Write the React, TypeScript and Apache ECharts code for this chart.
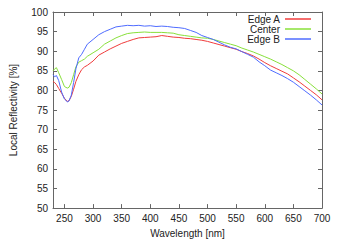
import React, { useEffect, useRef } from "react";
import * as echarts from "echarts";

const wavelengths = [
  230, 233, 236, 240, 245, 250, 255, 258, 262, 266, 270, 275, 280, 285, 290,
  300, 310, 320, 330, 340, 350, 360, 370, 380, 390, 400, 410, 420, 430, 440,
  450, 460, 470, 480, 490, 500, 510, 520, 530, 540, 550, 560, 570, 580, 590,
  600, 610, 620, 630, 640, 650, 660, 670, 680, 690, 700,
];

const edgeA = [
  82.3, 82.0, 81.5, 80.5, 79.3, 78.0, 77.2, 77.4, 78.5, 80.3, 82.3, 84.0, 85.3, 86.0, 86.4,
  87.5, 89.0, 89.8, 90.6, 91.3, 92.0, 92.5, 93.0, 93.4, 93.5, 93.6, 93.7, 94.0, 93.8, 93.6,
  93.5, 93.3, 93.2, 93.0, 92.8, 92.5, 92.1, 91.7, 91.3, 90.9, 90.5, 89.9, 89.4, 88.8, 88.0,
  87.1, 86.3, 85.6, 84.9, 84.2, 83.2, 82.2, 81.1, 80.0, 78.9, 77.6,
];

const center = [
  85.0, 85.5, 85.8, 84.5, 82.8, 81.0, 80.6, 80.8, 82.0, 84.0, 86.0, 87.2, 87.6, 88.0, 88.7,
  89.6, 90.5, 91.8, 92.6, 93.4, 94.0, 94.5, 94.7, 94.8, 94.9, 94.8, 94.8, 94.8, 94.7, 94.6,
  94.2, 94.0, 93.8, 93.6, 93.4, 93.3, 93.0, 92.6, 92.2, 91.8, 91.4, 90.8, 90.3, 89.8, 89.2,
  88.6, 88.0, 87.3, 86.6, 85.8, 85.0, 84.0, 82.8, 81.6, 80.4, 79.1,
];

const edgeB = [
  84.0, 83.5, 83.8, 82.5, 79.6, 77.8, 77.1, 77.3, 78.8, 82.0, 85.5, 88.3, 89.2, 90.5, 91.8,
  93.0, 94.2, 95.0, 95.6, 96.2, 96.4, 96.6, 96.5, 96.6, 96.4, 96.5, 96.3, 96.4, 96.3, 96.1,
  96.0, 95.8, 95.3, 94.8, 94.0, 93.5, 93.0, 92.3, 91.6, 91.0, 90.6, 89.9, 89.2, 88.5, 87.3,
  86.3, 85.2, 84.5, 83.8, 83.0, 82.1, 81.0, 79.9, 78.8, 77.6, 76.3,
];

const xTicks = [250, 300, 350, 400, 450, 500, 550, 600, 650, 700];

const seriesNames = ["Edge A", "Center", "Edge B"];
const seriesColors = ["#f03c3c", "#88e03a", "#4f6cff"];
const seriesValues = [edgeA, center, edgeB];

const FONT = "'Liberation Sans', Arial, Helvetica, sans-serif";

export default function App() {
  const ref = useRef<HTMLDivElement>(null);

  useEffect(() => {
    if (!ref.current) return;
    const chart = echarts.init(ref.current, null, { renderer: "svg" });
    const axisLine = { show: true, lineStyle: { color: "#666", width: 1 } };
    const tickStyle = { color: "#666", width: 1 };
    const xCommon = {
      type: "value" as const,
      min: 230,
      max: 700,
      axisLine,
      axisTick: { show: true, inside: true, length: 4, lineStyle: tickStyle, customValues: xTicks },
      splitLine: { show: false },
    };
    const yCommon = {
      type: "value" as const,
      min: 50,
      max: 100,
      interval: 5,
      axisLine,
      axisTick: { show: true, inside: true, length: 4, lineStyle: tickStyle },
      splitLine: { show: false },
    };
    chart.setOption({
      animation: false,
      textStyle: { fontFamily: FONT },
      grid: { left: 49, right: 15, top: 12, bottom: 31 },
      legend: {
        orient: "vertical",
        right: 26,
        top: 14,
        padding: 0,
        align: "right",
        itemWidth: 26,
        itemHeight: 1.5,
        itemGap: 0,
        icon: "rect",
        textStyle: { fontFamily: FONT, fontSize: 10, color: "#222", lineHeight: 10 },
        data: seriesNames,
      },
      xAxis: [
        {
          ...xCommon,
          position: "bottom",
          name: "Wavelength [nm]",
          nameLocation: "middle",
          nameGap: 19,
          nameTextStyle: { fontFamily: FONT, fontSize: 10, color: "#222" },
          axisLabel: {
            fontFamily: FONT,
            fontSize: 10,
            color: "#222",
            margin: 5,
            customValues: xTicks,
          },
        },
        {
          ...xCommon,
          position: "top",
          axisLabel: { show: false },
        },
      ],
      yAxis: [
        {
          ...yCommon,
          position: "left",
          name: "Local Reflectivity [%]",
          nameLocation: "middle",
          nameGap: 35,
          nameTextStyle: { fontFamily: FONT, fontSize: 10, color: "#222" },
          axisLabel: { fontFamily: FONT, fontSize: 10, color: "#222", margin: 5 },
        },
        {
          ...yCommon,
          position: "right",
          axisLabel: { show: false },
        },
      ],
      series: seriesNames.map((name, i) => ({
        name,
        type: "line",
        xAxisIndex: 0,
        yAxisIndex: 0,
        showSymbol: false,
        symbol: "none",
        color: seriesColors[i],
        lineStyle: { width: 1, color: seriesColors[i] },
        data: wavelengths.map((w, j) => [w, seriesValues[i][j]]),
      })),
    });
    return () => chart.dispose();
  }, []);

  return (
    <div
      ref={ref}
      style={{ position: "fixed", left: 0, top: 0, width: 337, height: 243, background: "#fff" }}
    />
  );
}
